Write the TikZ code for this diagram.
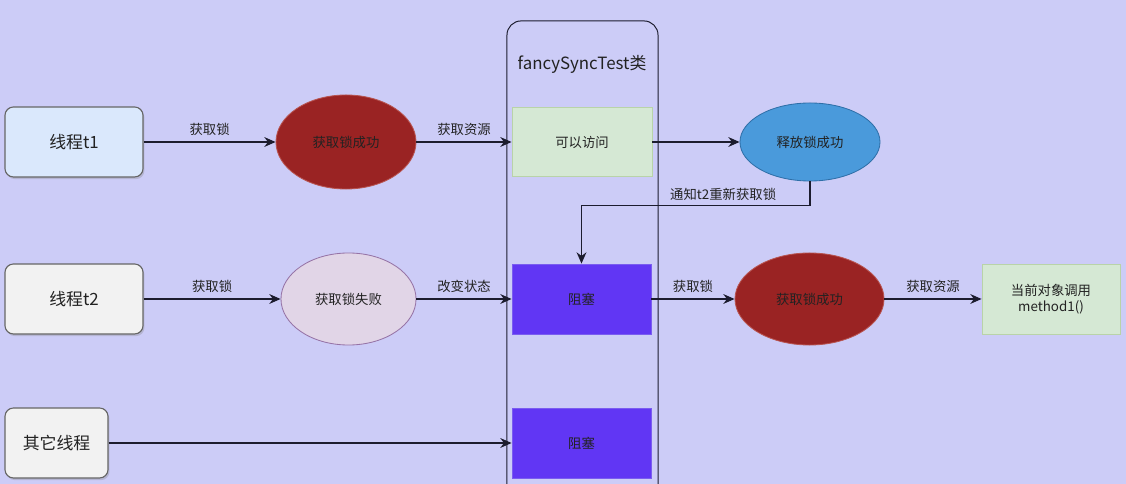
\documentclass[tikz,border=0pt]{standalone}
\usepackage{fontspec}
\setmainfont{Noto Sans CJK SC}
\usetikzlibrary{arrows.meta, positioning, shapes.geometric, shadows}
\definecolor{bgLavender}{HTML}{CCCCF7}
\definecolor{lineDark}{HTML}{1C1C2E}
\definecolor{textDark}{HTML}{222222}
\definecolor{lockRed}{HTML}{9A2323}
\definecolor{lockRedEdge}{HTML}{B85450}
\definecolor{releaseBlue}{HTML}{4A9ADB}
\definecolor{releaseEdge}{HTML}{2F6FA8}
\definecolor{failPurple}{HTML}{E1D5E7}
\definecolor{failEdge}{HTML}{9673A6}
\definecolor{okGreen}{HTML}{D5E8D4}
\definecolor{okEdge}{HTML}{B9D3A8}
\definecolor{blockViolet}{HTML}{6136F4}
\definecolor{blockEdge}{HTML}{7A5CF0}
\definecolor{threadBlue}{HTML}{DAE8FC}
\definecolor{threadGray}{HTML}{F2F2F2}
\definecolor{threadEdge}{HTML}{666666}

\begin{document}
\begin{tikzpicture}[x=0.025cm, y=-0.025cm, font=\fontsize{9.5}{11}\selectfont, text=textDark,
    thread/.style={rectangle, rounded corners=6pt, draw=threadEdge, line width=0.8pt,
      minimum width=3.45cm, minimum height=1.75cm, font=\fontsize{12}{14}\selectfont,
      drop shadow={shadow xshift=1pt, shadow yshift=-1.5pt, opacity=0.3}},
    state/.style={ellipse, draw, line width=0.6pt, inner sep=0pt, minimum width=3.5cm, minimum height=2.35cm},
    cell/.style={rectangle, draw, line width=0.6pt, minimum width=3.5cm, minimum height=1.75cm, align=center},
    lbl/.style={midway, above=1pt, font=\fontsize{9.5}{11}\selectfont},
    arr/.style={-{Stealth[length=8pt, width=7pt]}, draw=lineDark, line width=0.8pt}]
    \useasboundingbox (0,0) rectangle (1126,484);
    \clip (0,0) rectangle (1126,484);
    \fill[bgLavender] (0,0) rectangle (1126,484);

    % --- clase compartida ---
    \node[rectangle, rounded corners=10pt, draw=lineDark, line width=0.7pt,
      minimum width=3.775cm, minimum height=12.5cm] (cls) at (582.5,271) {};
    \node[font=\fontsize{12}{14}\selectfont] (clstitle) at (582,64) {fancySyncTest类};

    % --- fila t1 ---
    \node[thread, fill=threadBlue] (t1) at (74,142) {线程t1};
    \node[state, fill=lockRed, draw=lockRedEdge] (lock1) at (346,142) {获取锁成功};
    \node[cell, fill=okGreen, draw=okEdge, minimum height=1.725cm] (access) at (582,142) {可以访问};
    \node[state, fill=releaseBlue, draw=releaseEdge, minimum height=1.95cm] (release) at (810,142) {释放锁成功};

    % --- fila t2 ---
    \node[thread, fill=threadGray] (t2) at (74,299) {线程t2};
    \node[state, fill=failPurple, draw=failEdge, minimum width=3.375cm, minimum height=2.3cm] (fail) at (348.5,299) {获取锁失败};
    \node[cell, fill=blockViolet, draw=blockEdge, minimum width=3.475cm] (blk1) at (581.5,299) {阻塞};
    \node[state, fill=lockRed, draw=lockRedEdge, minimum width=3.725cm, minimum height=2.3cm] (lock2) at (809.5,299) {获取锁成功};
    \node[cell, fill=okGreen, draw=okEdge, minimum width=3.45cm] (call) at (1051,299) {当前对象调用\\method1()};

    % --- otros hilos ---
    \node[thread, fill=threadGray, minimum width=2.575cm] (others) at (56.5,443) {其它线程};
    \node[cell, fill=blockViolet, draw=blockEdge, minimum width=3.475cm] (blk2) at (581.5,443) {阻塞};

    % --- flechas ---
    \draw[arr] (t1) -- node[lbl] {获取锁} (lock1);
    \draw[arr] (lock1) -- node[lbl] {获取资源} (access);
    \draw[arr] (access) -- (release);
    \draw[arr] (release.south) -- ++(0,24) -| node[pos=0.19, above=0pt] {通知t2重新获取锁} (blk1.north);
    \draw[arr] (t2) -- node[lbl] {获取锁} (fail);
    \draw[arr] (fail) -- node[lbl] {改变状态} (blk1);
    \draw[arr] (blk1) -- node[lbl] {获取锁} (lock2);
    \draw[arr] (lock2) -- node[lbl] {获取资源} (call);
    \draw[arr] (others) -- (blk2);
  \end{tikzpicture}
\end{document}
